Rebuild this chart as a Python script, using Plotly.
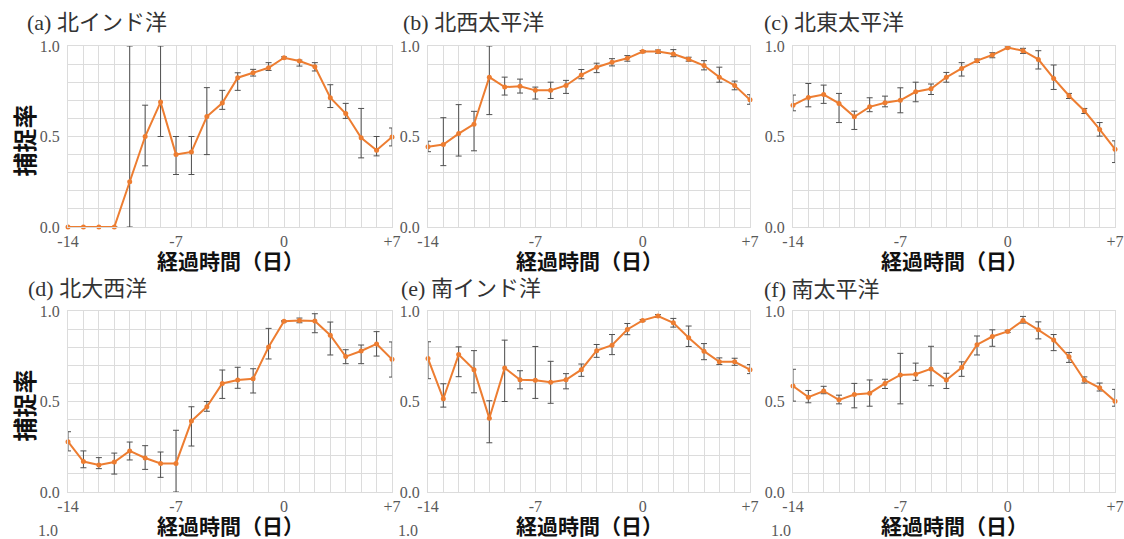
import plotly.graph_objects as go

W, H = 1124, 539

days = list(range(-14, 8))

# (a) 北インド洋
a_val = [0.0, 0.0, 0.0, 0.0, 0.25, 0.50, 0.69, 0.40, 0.415, 0.61, 0.685, 0.825, 0.852, 0.88,
         0.935, 0.917, 0.886, 0.714, 0.627, 0.493, 0.424, 0.497]
a_hi = [0.0, 0.0, 0.0, 0.0, 1.0, 0.673, 1.0, 0.50, 0.50, 0.77, 0.755, 0.852, 0.871, 0.908,
        0.94, 0.922, 0.908, 0.786, 0.683, 0.655, 0.50, 0.547]
a_lo = [0.0, 0.0, 0.0, 0.0, 0.0, 0.338, 0.50, 0.29, 0.29, 0.40, 0.65, 0.755, 0.834, 0.865,
        0.93, 0.889, 0.862, 0.66, 0.60, 0.382, 0.393, 0.448]

# (b) 北西太平洋
b_val = [0.443, 0.456, 0.516, 0.568, 0.828, 0.773, 0.777, 0.755, 0.755, 0.782, 0.84, 0.883,
         0.91, 0.932, 0.969, 0.969, 0.956, 0.927, 0.892, 0.828, 0.782, 0.703]
b_hi = [0.474, 0.604, 0.676, 0.639, 1.0, 0.828, 0.817, 0.773, 0.80, 0.81, 0.87, 0.905,
        0.93, 0.947, 0.975, 0.978, 0.98, 0.938, 0.919, 0.883, 0.806, 0.731]
b_lo = [0.416, 0.339, 0.392, 0.421, 0.621, 0.729, 0.74, 0.707, 0.71, 0.738, 0.819, 0.853,
        0.89, 0.916, 0.963, 0.96, 0.941, 0.916, 0.868, 0.80, 0.758, 0.678]

# (c) 北東太平洋
c_val = [0.673, 0.716, 0.732, 0.683, 0.609, 0.664, 0.686, 0.70, 0.747, 0.764, 0.827, 0.876,
         0.919, 0.95, 0.991, 0.974, 0.926, 0.821, 0.725, 0.642, 0.539, 0.43]
c_hi = [0.729, 0.793, 0.784, 0.738, 0.64, 0.714, 0.723, 0.769, 0.80, 0.79, 0.854, 0.908,
        0.928, 0.963, 0.995, 0.987, 0.974, 0.895, 0.738, 0.655, 0.577, 0.476]
c_lo = [0.642, 0.664, 0.683, 0.577, 0.539, 0.637, 0.664, 0.631, 0.692, 0.732, 0.80, 0.834,
        0.909, 0.935, 0.986, 0.959, 0.873, 0.76, 0.71, 0.627, 0.502, 0.356]

# (d) 北大西洋
d_val = [0.278, 0.168, 0.149, 0.166, 0.227, 0.188, 0.158, 0.158, 0.392, 0.471, 0.60, 0.619,
         0.626, 0.801, 0.943, 0.947, 0.945, 0.866, 0.748, 0.779, 0.818, 0.733]
d_hi = [0.333, 0.227, 0.19, 0.215, 0.276, 0.256, 0.221, 0.341, 0.471, 0.50, 0.674, 0.689,
        0.681, 0.904, 0.946, 0.961, 0.985, 0.939, 0.786, 0.812, 0.886, 0.829]
d_lo = [0.227, 0.134, 0.129, 0.099, 0.177, 0.125, 0.081, 0.0, 0.254, 0.446, 0.517, 0.573,
        0.547, 0.735, 0.94, 0.935, 0.88, 0.757, 0.709, 0.709, 0.751, 0.635]

# (e) 南インド洋
e_val = [0.737, 0.515, 0.759, 0.676, 0.407, 0.685, 0.62, 0.617, 0.606, 0.62, 0.676, 0.781,
         0.811, 0.898, 0.948, 0.972, 0.935, 0.852, 0.778, 0.719, 0.719, 0.676]
e_hi = [0.83, 0.598, 0.802, 0.781, 0.504, 0.839, 0.67, 0.804, 0.722, 0.654, 0.707, 0.815,
        0.87, 0.931, 0.953, 0.98, 0.959, 0.917, 0.82, 0.741, 0.739, 0.704]
e_lo = [0.626, 0.469, 0.637, 0.548, 0.272, 0.50, 0.57, 0.517, 0.49, 0.57, 0.639, 0.744,
        0.759, 0.869, 0.944, 0.965, 0.911, 0.804, 0.731, 0.704, 0.70, 0.654]

# (f) 南太平洋
f_val = [0.585, 0.524, 0.558, 0.509, 0.539, 0.546, 0.60, 0.647, 0.651, 0.68, 0.619, 0.688,
         0.814, 0.859, 0.887, 0.948, 0.896, 0.84, 0.747, 0.619, 0.576, 0.502]
f_hi = [0.678, 0.561, 0.584, 0.535, 0.60, 0.619, 0.623, 0.766, 0.712, 0.805, 0.656, 0.719,
        0.862, 0.896, 0.893, 0.97, 0.94, 0.87, 0.771, 0.636, 0.602, 0.567]
f_lo = [0.502, 0.493, 0.543, 0.487, 0.465, 0.474, 0.572, 0.487, 0.617, 0.587, 0.572, 0.639,
        0.757, 0.805, 0.881, 0.933, 0.846, 0.781, 0.716, 0.602, 0.558, 0.474]

titles = ["(a) 北インド洋", "(b) 北西太平洋", "(c) 北東太平洋",
          "(d) 北大西洋", "(e) 南インド洋", "(f) 南太平洋"]
panels = [(a_val, a_hi, a_lo), (b_val, b_hi, b_lo), (c_val, c_hi, c_lo),
          (d_val, d_hi, d_lo), (e_val, e_hi, e_lo), (f_val, f_hi, f_lo)]

x_tickvals = [-14, -7, 0, 7]
x_ticktext = ["-14", "-7", "0", "+7"]
y_tickvals = [0.0, 0.5, 1.0]
y_ticktext = ["0.0", "0.5", "1.0"]

# plot-area edges in pixels
col_px = [(68, 392), (428, 750), (793, 1115)]
row_px = [(46, 227), (311, 492)]
title_px = [(25, 22), (401, 22), (762, 22), (26, 288), (399, 288), (762, 289)]

ORANGE = "#ED7D31"
GRID = "#dcdcdc"
TICK = "#595959"
SERIF = "Liberation Serif"
MIXED = "Liberation Serif, Noto Sans CJK JP"
GOTHIC = "Noto Sans CJK JP"

fig = go.Figure()
annotations = []

for i, (vals, hi, lo) in enumerate(panels):
    r, c = divmod(i, 3)
    n = i + 1
    xa = "x" if n == 1 else f"x{n}"
    ya = "y" if n == 1 else f"y{n}"
    x0, x1 = col_px[c]
    y0, y1 = row_px[r]

    plus = [h - v for h, v in zip(hi, vals)]
    minus = [v - l for v, l in zip(vals, lo)]

    fig.add_trace(go.Scatter(
        x=days, y=vals, xaxis=xa, yaxis=ya, mode="lines+markers",
        line=dict(color=ORANGE, width=2),
        marker=dict(color=ORANGE, size=5),
        error_y=dict(type="data", symmetric=False, array=plus, arrayminus=minus,
                     color="#505050", thickness=1, width=3),
        showlegend=False, cliponaxis=False,
    ))

    axis_x = dict(
        domain=[x0 / W, x1 / W], anchor=ya, range=[-14, 7],
        tickmode="array", tickvals=x_tickvals, ticktext=x_ticktext,
        tickfont=dict(family=SERIF, size=16, color=TICK),
        showgrid=True, gridcolor=GRID, gridwidth=1,
        minor=dict(tickmode="linear", tick0=0, dtick=1, showgrid=True,
                   gridcolor=GRID, gridwidth=1),
        showline=True, linecolor=GRID, linewidth=1, mirror=True,
        zeroline=False, ticks="", automargin=False, fixedrange=True,
    )
    axis_y = dict(
        domain=[1 - y1 / H, 1 - y0 / H], anchor=xa, range=[0, 1],
        tickmode="array", tickvals=y_tickvals, ticktext=y_ticktext,
        tickfont=dict(family=SERIF, size=16, color=TICK),
        showgrid=True, gridcolor=GRID, gridwidth=1,
        minor=dict(tickmode="linear", tick0=0, dtick=0.1, showgrid=True,
                   gridcolor=GRID, gridwidth=1),
        showline=True, linecolor=GRID, linewidth=1, mirror=True,
        zeroline=False, ticks="", ticklabelstandoff=4, automargin=False,
        fixedrange=True,
    )
    fig.layout["xaxis" if n == 1 else f"xaxis{n}"] = axis_x
    fig.layout["yaxis" if n == 1 else f"yaxis{n}"] = axis_y

    # panel title
    tx, ty = title_px[i]
    annotations.append(dict(
        text=titles[i], xref="paper", yref="paper", x=tx / W, y=1 - ty / H,
        xanchor="left", yanchor="middle", showarrow=False,
        font=dict(family=MIXED, size=22, color="#333333"),
    ))
    # x-axis title
    annotations.append(dict(
        text="<b>経過時間（日）</b>", xref="paper", yref="paper",
        x=(x0 + x1) / 2 / W, y=1 - (y1 + 33) / H,
        xanchor="center", yanchor="middle", showarrow=False,
        font=dict(family=GOTHIC, size=21, color="#111111"),
    ))
    # y-axis title on the left column only
    if c == 0:
        annotations.append(dict(
            text="<b>捕捉率</b>", xref="paper", yref="paper",
            x=23 / W, y=1 - ((y0 + y1) / 2 + 4) / H, textangle=-90,
            xanchor="center", yanchor="middle", showarrow=False,
            font=dict(family=GOTHIC, size=24, color="#111111"),
        ))

# tick labels of the following row, cut at the bottom edge
for cx in (48, 408, 781):
    annotations.append(dict(
        text="1.0", xref="paper", yref="paper", x=cx / W, y=1 - 530 / H,
        xanchor="center", yanchor="middle", showarrow=False,
        font=dict(family=SERIF, size=16, color=TICK),
    ))

fig.update_layout(
    width=W, height=H, autosize=False,
    margin=dict(l=0, r=0, t=0, b=0, pad=0, autoexpand=False),
    paper_bgcolor="white", plot_bgcolor="white",
    annotations=annotations,
)

fig.write_html(
    "out.html",
    post_script="document.body.style.margin='0';document.body.style.overflow='hidden';",
)
